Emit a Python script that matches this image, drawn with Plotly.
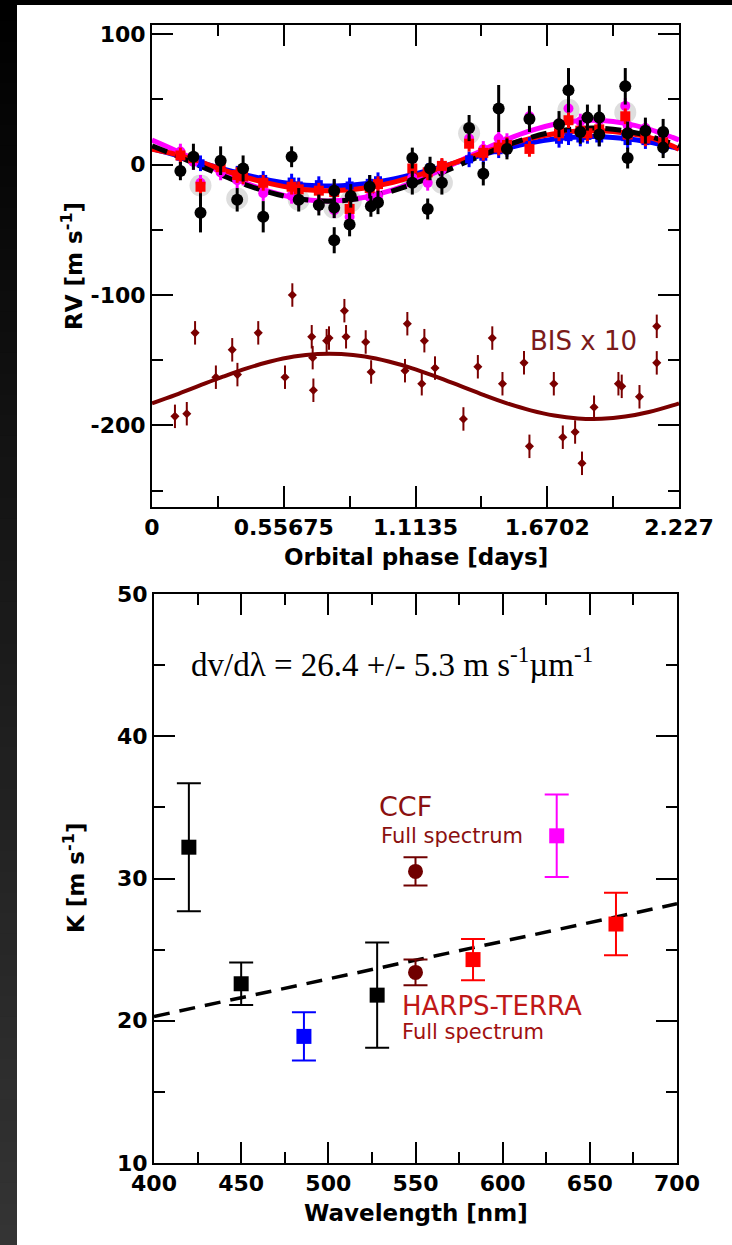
import plotly.graph_objects as go

W, H = 732, 1245

# ---------------- top panel: RV vs orbital phase ----------------
rv_phase = [0.12, 0.175, 0.205, 0.29, 0.36, 0.385, 0.47, 0.59, 0.62, 0.705,
            0.77, 0.77, 0.77, 0.835, 0.84, 0.92, 0.925, 0.955, 1.10, 1.10,
            1.175, 1.165, 1.225, 1.34, 1.40, 1.465, 1.50, 1.595, 1.72, 1.76,
            1.81, 1.84, 1.89, 1.89, 2.00, 2.01, 2.01, 2.085, 2.16, 2.16]
rv_black = [-5, 6, -37, 3, -27, -3, -40, 6, -27, -31,
            -20, -33, -58, -46, -24, -17, -32, -29, 5, -14,
            -3, -34, -14, 28, -7, 43, 12, 35, 31, 57,
            25, 36, 36, 23, 60, 24, 5, 26, 25, 13]
rv_black_err = [7, 10, 15, 11, 9, 10, 12, 8, 9, 8,
                9, 8, 10, 9, 9, 9, 8, 9, 8, 9,
                9, 8, 9, 10, 9, 18, 8, 10, 10, 17,
                9, 10, 10, 9, 14, 9, 8, 10, 10, 8]

band_phase = [0.12, 0.175, 0.205, 0.29, 0.36, 0.385, 0.47, 0.59, 0.62, 0.705,
              0.77, 0.835, 0.92, 0.955, 1.10, 1.165, 1.225, 1.34, 1.40, 1.465,
              1.50, 1.595, 1.72, 1.76, 1.81, 1.84, 1.89, 2.00, 2.01, 2.085, 2.16]
rv_blue = [6, 4, 1, -3, -7, -6, -11, -13, -16, -15, -18, -16, -14, -12, -5, -5,
           -2, 4, 6, 11, 12, 15, 19, 21, 20, 22, 20, 21, 18, 18, 14]
rv_red = [7, 5, -17, -2, -8, -9, -14, -17, -19, -20, -21, -34, -18, -15, -3, -6,
          -1, 16, 9, 13, 15, 12, 24, 34, 26, 24, 27, 37, 23, 20, 17]
rv_magenta = [10, 2, -14, -6, -12, -10, -22, -24, -27, -30, -35, -40, -25, -24, -10, -14,
              -4, 20, 12, 20, 18, 37, 30, 43, 33, 35, 34, 45, 30, 28, 22]

halo_phase = [0.205, 0.36, 0.62, 0.77, 0.84, 1.10, 1.225, 1.34, 1.76, 2.00]
halo_rv = [-16, -26, -27, -33, -28, -14, -14, 24, 42, 40]

fit_phase = [0.0, 0.1, 0.2, 0.3, 0.4, 0.5, 0.6, 0.7, 0.8, 0.9, 1.0, 1.1,
             1.2, 1.3, 1.4, 1.5, 1.6, 1.7, 1.8, 1.9, 2.0, 2.1, 2.2, 2.227]
fit_black = [14.3, 7.0, -0.8, -8.6, -15.7, -21.5, -25.7, -27.8, -27.7, -25.4, -21.1, -15.2,
             -8.0, -0.3, 7.5, 14.8, 20.8, 25.2, 27.6, 27.8, 25.8, 21.8, 16.1, 14.3]
fit_blue = [12.2, 7.3, 1.9, -3.3, -8.1, -12.1, -14.9, -16.3, -16.3, -14.7, -11.8, -7.8,
            -3.0, 2.3, 7.6, 12.5, 16.6, 19.6, 21.2, 21.4, 20.0, 17.3, 13.4, 12.2]
fit_red = [11.7, 7.8, 2.3, -4.0, -9.9, -14.6, -18.1, -19.8, -19.7, -17.9, -14.4, -9.4,
           -3.6, 2.8, 9.2, 15.1, 20.1, 23.7, 25.7, 25.9, 24.2, 20.9, 14.2, 11.7]
fit_magenta = [18.8, 10.8, 2.1, -6.5, -14.3, -20.8, -25.4, -27.7, -27.6, -25.1, -20.4, -13.8,
               -5.9, 2.7, 11.4, 19.3, 26.0, 30.9, 33.6, 33.8, 31.6, 27.2, 20.8, 18.8]

bis_phase = [0.097, 0.147, 0.182, 0.270, 0.339, 0.361, 0.449, 0.562, 0.593, 0.675,
             0.679, 0.682, 0.738, 0.748, 0.813, 0.820, 0.903, 0.926, 1.069, 1.079,
             1.140, 1.151, 1.196, 1.316, 1.377, 1.438, 1.481, 1.572, 1.595, 1.698,
             1.736, 1.788, 1.817, 1.868, 1.971, 1.985, 2.060, 2.133, 2.133]
bis_val = [-193, -191, -129, -163, -142, -161, -129, -163, -100, -132,
           -148, -173, -135, -133, -112, -132, -136, -159, -158, -122,
           -168, -135, -156, -195, -155, -133, -168, -152, -216, -168,
           -209, -205, -229, -186, -168, -170, -178, -124, -152]
bis_fit = [-183.0, -176.5, -169.5, -162.6, -156.2, -151.0, -147.2, -145.3, -145.3, -147.2,
           -151.0, -156.2, -162.6, -169.5, -176.5, -183.0, -188.4, -192.4, -194.6, -194.9,
           -193.2, -189.7, -184.6, -183.0]

phase_ticks = [0, 0.55675, 1.1135, 1.67025, 2.227]
phase_ticktext = ["0", "0.55675", "1.1135", "1.6702", "2.227"]
phase_minor = [0.278375, 0.835125, 1.391875, 1.948625]
rv_ticks = [-200, -100, 0, 100]
rv_ticktext = ["-200", "-100", "0", "100"]
rv_minor = [-250, -150, -50, 50]

# ---------------- bottom panel: K vs wavelength ----------------
wl_black = [420, 450, 528]
k_black = [32.2, 22.6, 21.8]
k_black_err = [4.5, 1.5, 3.7]
wl_blue = [486]
k_blue = [18.9]
k_blue_err = [1.7]
wl_red = [583, 665]
k_red = [24.3, 26.8]
k_red_err = [1.45, 2.2]
wl_magenta = [631]
k_magenta = [33.0]
k_magenta_err = [2.9]
wl_ccf = [550, 550]
k_ccf = [30.5, 23.4]
k_ccf_err = [1.0, 0.9]
trend_wl = [400, 700]
trend_k = [20.3, 28.22]

MAROON = "#700000"
BIS_COLOR = "#7a0000"

fig = go.Figure()

def top(**kw):
    return dict(xaxis="x", yaxis="y", showlegend=False, hoverinfo="skip", **kw)

def bot(**kw):
    return dict(xaxis="x2", yaxis="y2", showlegend=False, hoverinfo="skip", **kw)

# halos
fig.add_trace(go.Scatter(x=halo_phase, y=halo_rv, mode="markers",
                         marker=dict(size=22, color="#dedede"), **top()))
# model curves
for vals, col in [(fit_blue, "#0000ff"), (fit_magenta, "#ff00ff"), (fit_red, "#ff0000")]:
    fig.add_trace(go.Scatter(x=fit_phase, y=vals, mode="lines",
                             line=dict(color=col, width=5, shape="spline"), **top()))
fig.add_trace(go.Scatter(x=fit_phase, y=fit_black, mode="lines",
                         line=dict(color="black", width=5, dash="16px,9px", shape="spline"), **top()))
# coloured measurements
for vals, col, sym, sz in [(rv_blue, "#0000ff", "square", 8),
                           (rv_magenta, "#ff00ff", "circle", 10),
                           (rv_red, "#ff0000", "square", 10)]:
    fig.add_trace(go.Scatter(x=band_phase, y=vals, mode="markers",
                             marker=dict(size=sz, color=col, symbol=sym),
                             error_y=dict(type="constant", value=6, color=col, thickness=3, width=0),
                             **top()))
# black measurements
fig.add_trace(go.Scatter(x=rv_phase, y=rv_black, mode="markers",
                         marker=dict(size=12, color="black"),
                         error_y=dict(type="data", array=rv_black_err, color="black", thickness=3, width=0),
                         **top()))
# bisector
fig.add_trace(go.Scatter(x=fit_phase, y=bis_fit, mode="lines",
                         line=dict(color=BIS_COLOR, width=4, shape="spline"), **top()))
fig.add_trace(go.Scatter(x=bis_phase, y=bis_val, mode="markers",
                         marker=dict(size=7, color=BIS_COLOR, symbol="diamond"),
                         error_y=dict(type="constant", value=9, color=BIS_COLOR, thickness=2, width=0),
                         **top()))

# bottom panel
fig.add_trace(go.Scatter(x=trend_wl, y=trend_k, mode="lines",
                         line=dict(color="black", width=3.5, dash="16px,10px"), **bot()))
for xs, ys, es, col, sym in [(wl_black, k_black, k_black_err, "black", "square"),
                             (wl_blue, k_blue, k_blue_err, "#0000ff", "square"),
                             (wl_red, k_red, k_red_err, "#ff0000", "square"),
                             (wl_magenta, k_magenta, k_magenta_err, "#ff00ff", "square"),
                             (wl_ccf, k_ccf, k_ccf_err, MAROON, "circle")]:
    fig.add_trace(go.Scatter(x=xs, y=ys, mode="markers",
                             marker=dict(size=15, color=col, symbol=sym),
                             error_y=dict(type="data", array=es, color=col, thickness=2, width=12),
                             **bot()))

def px_x(v):
    return v / W

def px_y(v):
    return 1 - v / H

TICKFONT = dict(family="DejaVu Sans", size=22, color="black", weight="bold")

def axis_style(**kw):
    d = dict(showline=True, linecolor="black", linewidth=2, mirror="allticks",
             ticks="inside", ticklen=21, tickwidth=2, tickcolor="black",
             showgrid=False, zeroline=False, tickfont=TICKFONT, fixedrange=True,
             automargin=False)
    d.update(kw)
    return d

fig.update_layout(
    width=W, height=H,
    margin=dict(l=0, r=0, t=0, b=0, pad=0, autoexpand=False),
    paper_bgcolor="black",
    plot_bgcolor="white",
    xaxis=axis_style(domain=[px_x(152), px_x(679)], range=[0, 2.227], anchor="y",
                     tickmode="array", tickvals=phase_ticks, ticktext=phase_ticktext,
                     minor=dict(tickmode="array", tickvals=phase_minor, ticks="inside",
                                ticklen=11, tickwidth=2, tickcolor="black")),
    yaxis=axis_style(domain=[px_y(507), px_y(25)], range=[-262.5, 107], anchor="x",
                     tickmode="array", tickvals=rv_ticks, ticktext=rv_ticktext,
                     minor=dict(tickmode="array", tickvals=rv_minor, ticks="inside",
                                ticklen=11, tickwidth=2, tickcolor="black")),
    xaxis2=axis_style(domain=[px_x(154), px_x(677)], range=[400, 700], anchor="y2",
                      tickmode="linear", tick0=400, dtick=50,
                      minor=dict(dtick=25, ticks="inside", ticklen=11, tickwidth=2, tickcolor="black")),
    yaxis2=axis_style(domain=[px_y(1163), px_y(594)], range=[10, 50], anchor="x2",
                      tickmode="linear", tick0=10, dtick=10,
                      minor=dict(dtick=5, ticks="inside", ticklen=11, tickwidth=2, tickcolor="black")),
)

# page background: white sheet, dark strip at left with a vertical gradient
shapes = [dict(type="rect", xref="paper", yref="paper", x0=px_x(17), x1=1, y0=0, y1=px_y(5),
               fillcolor="white", line=dict(width=0), layer="below")]
n_bands = 60
for i in range(n_bands):
    g = int(round(0x34 * (i + 0.5) / n_bands))
    # each band runs to the bottom; later bands cover the lower part, so no seams
    shapes.append(dict(type="rect", xref="paper", yref="paper", x0=0, x1=px_x(17),
                       y0=0, y1=px_y(H * i / n_bands),
                       fillcolor=f"rgb({g},{g},{g})", line=dict(width=0), layer="below"))
fig.update_layout(shapes=shapes)

TITLEFONT = dict(family="DejaVu Sans", size=23, color="black", weight="bold")
SANS = "DejaVu Sans"
ann = [
    dict(text="Orbital phase [days]", x=px_x(416), y=px_y(557), font=TITLEFONT),
    dict(text="RV [m s<sup>-1</sup>]", x=px_x(72), y=px_y(266), textangle=-90, font=TITLEFONT),
    dict(text="Wavelength [nm]", x=px_x(416), y=px_y(1213), font=TITLEFONT),
    dict(text="K [m s<sup>-1</sup>]", x=px_x(74), y=px_y(878), textangle=-90, font=TITLEFONT),
    dict(text="BIS x 10", x=px_x(583), y=px_y(341), font=dict(family=SANS, size=26, color="#7a1a1a")),
    dict(text="dv/dλ = 26.4 +/- 5.3 m s<sup>-1</sup>µm<sup>-1</sup>", x=px_x(189), y=px_y(662),
         xanchor="left", font=dict(family="Liberation Serif", size=33, color="black")),
    dict(text="CCF", x=px_x(377), y=px_y(806), xanchor="left",
         font=dict(family=SANS, size=27, color="#8a1010")),
    dict(text="Full spectrum", x=px_x(379), y=px_y(836), xanchor="left",
         font=dict(family=SANS, size=21, color="#8a1010")),
    dict(text="HARPS-TERRA", x=px_x(400), y=px_y(1006), xanchor="left",
         font=dict(family=SANS, size=26, color="#c01818")),
    dict(text="Full spectrum", x=px_x(400), y=px_y(1032), xanchor="left",
         font=dict(family=SANS, size=21, color="#a01010")),
]
for a in ann:
    a.setdefault("xanchor", "center")
    a.update(xref="paper", yref="paper", yanchor="middle", showarrow=False)
fig.update_layout(annotations=ann)

fig.write_html("out.html")
